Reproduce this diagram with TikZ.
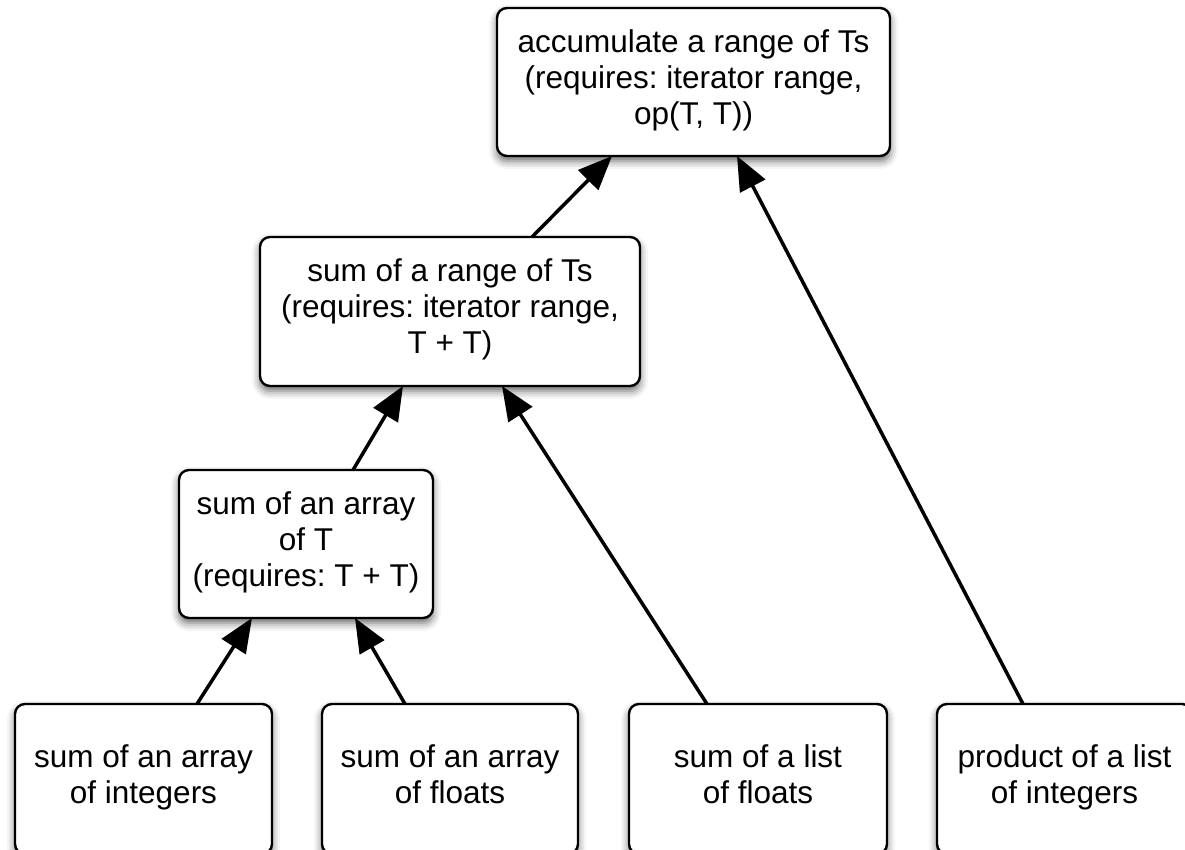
\documentclass[tikz,border=0pt]{standalone}
\usepackage{fontspec}
\setmainfont{Liberation Sans}
\usetikzlibrary{arrows.meta,shadows.blur}
\frenchspacing

% struts that give every box the same first baseline and last depth
\newcommand{\topstrut}{\rule{0pt}{31pt}}
\newcommand{\botstrut}{\rule[-10.8pt]{0pt}{10.8pt}}

\tikzset{
  box/.style={draw=black, line width=2.4pt, fill=white, rounded corners=10pt,
    align=center, inner sep=0pt, outer sep=0pt,
    font=\fontsize{31.5}{36}\selectfont,
    execute at begin node=\topstrut, execute at end node=\botstrut,
    blur shadow={shadow xshift=0pt, shadow yshift=-5pt,
                 shadow blur radius=8pt, shadow opacity=60}},
  link/.style={line width=3.5pt, -{Triangle[length=34pt,width=28pt]}}
}

\begin{document}
\begin{tikzpicture}[x=1pt, y=-1pt]
  \useasboundingbox (0,0) rectangle (1185,850);
  \clip (0,0) rectangle (1185,850);

  % generic algorithm at the top of the hierarchy
  \node[box, minimum width=393pt, minimum height=148pt] (acc) at (693.5,82)
    {accumulate a range of Ts\\(requires: iterator range,\\op(T, T))};
  \node[box, minimum width=380pt, minimum height=149pt] (rng) at (450,311.5)
    {sum of a range of Ts\\(requires: iterator range,\\T + T)};
  \node[box, minimum width=254pt, minimum height=148pt] (arrT) at (306,544)
    {sum of an array\\of T\\(requires: T + T)};

  % concrete cases along the bottom
  \node[box, minimum width=257pt, minimum height=150pt] (ints) at (143.5,779)
    {sum of an array\\of integers};
  \node[box, minimum width=256pt, minimum height=150pt] (flts) at (450,779)
    {sum of an array\\of floats};
  \node[box, minimum width=258pt, minimum height=150pt] (lflt) at (758,779)
    {sum of a list\\of floats};
  \node[box, minimum width=255pt, minimum height=150pt] (prod) at (1064.5,779)
    {product of a list\\of integers};

  % generalisation arrows
  \draw[link] ([xshift=272pt]rng.north west) -- ([xshift=115pt]acc.south west);
  \draw[link] ([xshift=86pt]prod.north west) -- ([xshift=240pt]acc.south west);
  \draw[link] ([xshift=174pt]arrT.north west) -- ([xshift=143pt]rng.south west);
  \draw[link] ([xshift=78pt]lflt.north west) -- ([xshift=242pt]rng.south west);
  \draw[link] ([xshift=182pt]ints.north west) -- ([xshift=73pt]arrT.south west);
  \draw[link] ([xshift=83pt]flts.north west) -- ([xshift=176pt]arrT.south west);
\end{tikzpicture}
\end{document}
